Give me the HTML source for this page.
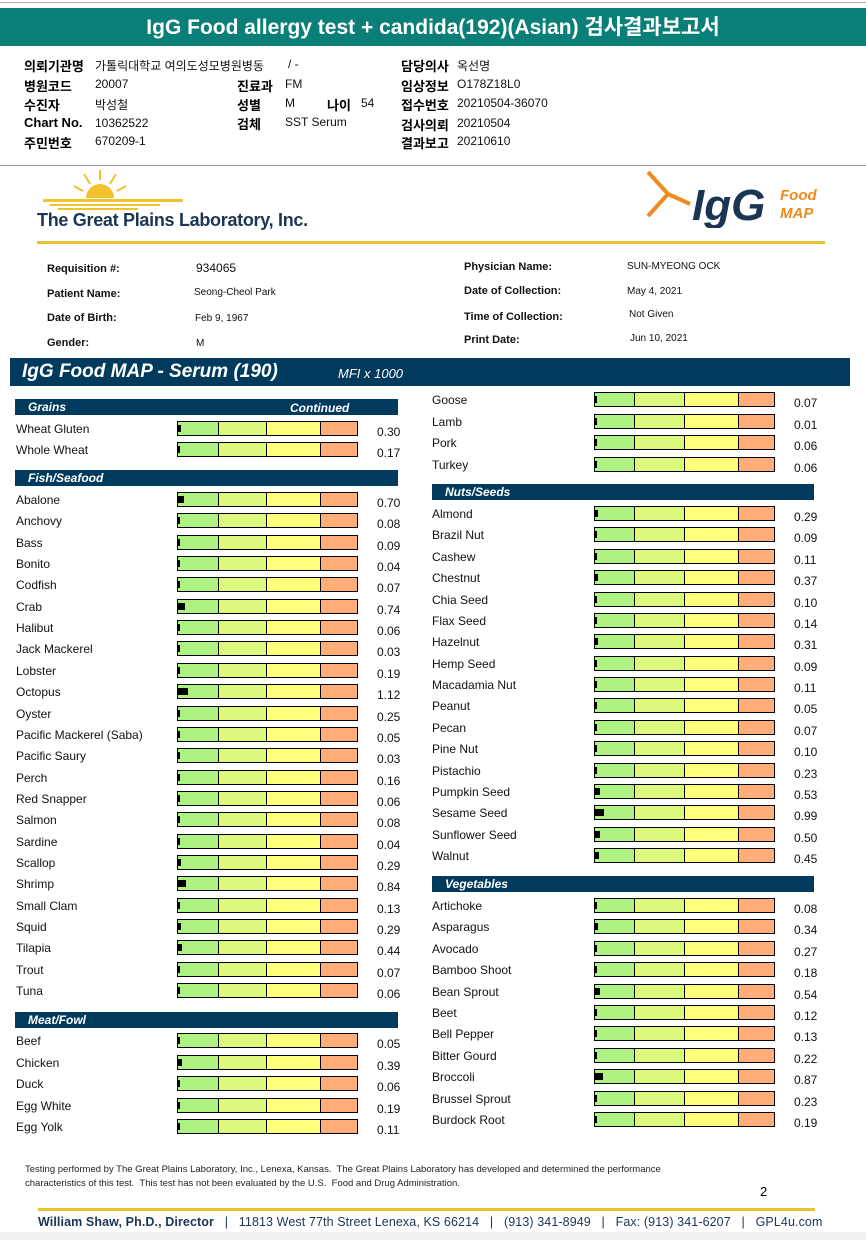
<!DOCTYPE html>
<html><head><meta charset="utf-8">
<style>
body{margin:0;width:866px;height:1240px;position:relative;background:#fff;font-family:"Liberation Sans","Noto Sans CJK KR",sans-serif;overflow:hidden}
.a{position:absolute;white-space:nowrap}
.k{font-weight:bold;font-size:13px;color:#000}
.v{font-size:12px;color:#111}
.pl{font-weight:bold;font-size:11px;color:#111}
.pv{font-size:10px;color:#111}
.hdr{position:absolute;background:#003a5c;color:#fff;font-weight:bold;font-style:italic;font-size:12px;height:16px;line-height:16px;padding-left:13px;box-sizing:border-box}
.lab{position:absolute;font-size:12px;color:#111;white-space:nowrap}
.val{position:absolute;font-size:12px;color:#111}
.bar{position:absolute;height:15px;box-sizing:border-box;border:1px solid #000;display:flex}
.bar div{height:100%;box-sizing:border-box}
.mk{position:absolute;background:#000;height:7px}
</style></head><body>
<div class="a" style="left:0;top:2px;width:866px;height:1px;background:#aaa"></div>
<div class="a" style="left:0;top:8px;width:866px;height:38px;background:#0a7f78;color:#fff;font-weight:bold;font-size:21px;line-height:40px;text-align:center">IgG Food allergy test + candida(192)(Asian) 검사결과보고서</div>

<div>
<span class="a k" style="left:24px;top:56px">의뢰기관명</span><span class="a v" style="left:95px;top:57px">가톨릭대학교 여의도성모병원병동</span><span class="a v" style="left:288px;top:57px">/ -</span>
<span class="a k" style="left:24px;top:76px">병원코드</span><span class="a v" style="left:95px;top:77px">20007</span>
<span class="a k" style="left:24px;top:95px">수진자</span><span class="a v" style="left:95px;top:96px">박성철</span>
<span class="a k" style="left:24px;top:115px">Chart No.</span><span class="a v" style="left:95px;top:116px">10362522</span>
<span class="a k" style="left:24px;top:133px">주민번호</span><span class="a v" style="left:95px;top:134px">670209-1</span>
<span class="a k" style="left:237px;top:76px">진료과</span><span class="a v" style="left:285px;top:77px">FM</span>
<span class="a k" style="left:237px;top:95px">성별</span><span class="a v" style="left:285px;top:96px">M</span>
<span class="a k" style="left:327px;top:95px">나이</span><span class="a v" style="left:361px;top:96px">54</span>
<span class="a k" style="left:237px;top:114px">검체</span><span class="a v" style="left:285px;top:115px">SST Serum</span>
<span class="a k" style="left:401px;top:56px">담당의사</span><span class="a v" style="left:457px;top:57px">옥선명</span>
<span class="a k" style="left:401px;top:76px">임상정보</span><span class="a v" style="left:457px;top:77px">O178Z18L0</span>
<span class="a k" style="left:401px;top:95px">접수번호</span><span class="a v" style="left:457px;top:96px">20210504-36070</span>
<span class="a k" style="left:401px;top:115px">검사의뢰</span><span class="a v" style="left:457px;top:116px">20210504</span>
<span class="a k" style="left:401px;top:133px">결과보고</span><span class="a v" style="left:457px;top:134px">20210610</span>
</div>
<div class="a" style="left:0;top:165px;width:866px;height:1px;background:#999"></div>

<svg class="a" style="left:38px;top:168px" width="150" height="45">
<path d="M48 30 A14 14 0 0 1 76 30 Z" fill="#f2c12e"/>
<g stroke="#f2c12e" stroke-width="2"><line x1="62" y1="12" x2="62" y2="2"/><line x1="52" y1="16" x2="46" y2="6"/><line x1="72" y1="16" x2="78" y2="6"/><line x1="45" y1="23" x2="36" y2="18"/><line x1="79" y1="23" x2="88" y2="18"/></g>
<g fill="#f2c12e"><rect x="5" y="31" width="140" height="3" rx="1"/><rect x="12" y="36" width="110" height="2"/><rect x="20" y="40" width="80" height="2"/></g>
</svg>
<div class="a" style="left:37px;top:210px;font-size:18px;font-weight:bold;color:#1c3553;letter-spacing:-0.3px">The Great Plains Laboratory, Inc.</div>
<svg class="a" style="left:640px;top:168px" width="190" height="60">
<g stroke="#ef8a1e" stroke-width="4" fill="none"><path d="M8 4 L28 26 L50 36"/><path d="M28 26 L8 48"/></g>
<text x="52" y="52" font-family="Liberation Sans" font-weight="bold" font-style="italic" font-size="44" fill="#1c3553">IgG</text>
<text x="140" y="32" font-family="Liberation Sans" font-weight="bold" font-style="italic" font-size="15" fill="#ef8a1e">Food</text>
<text x="140" y="50" font-family="Liberation Sans" font-weight="bold" font-style="italic" font-size="15" fill="#ef8a1e">MAP</text>
</svg>
<div class="a" style="left:37px;top:241px;width:788px;height:3px;background:#e8c232"></div>

<div>
<span class="a pl" style="left:47px;top:263px">Requisition #:</span><span class="a v" style="left:196px;top:261px">934065</span>
<span class="a pl" style="left:47px;top:288px">Patient Name:</span><span class="a pv" style="left:194px;top:287px">Seong-Cheol Park</span>
<span class="a pl" style="left:47px;top:312px">Date of Birth:</span><span class="a pv" style="left:195px;top:313px">Feb 9, 1967</span>
<span class="a pl" style="left:47px;top:337px">Gender:</span><span class="a pv" style="left:196px;top:338px">M</span>
<span class="a pl" style="left:464px;top:261px">Physician Name:</span><span class="a pv" style="left:627px;top:261px">SUN-MYEONG OCK</span>
<span class="a pl" style="left:464px;top:285px">Date of Collection:</span><span class="a pv" style="left:627px;top:286px">May 4, 2021</span>
<span class="a pl" style="left:464px;top:311px">Time of Collection:</span><span class="a pv" style="left:629px;top:309px">Not Given</span>
<span class="a pl" style="left:464px;top:334px">Print Date:</span><span class="a pv" style="left:630px;top:333px">Jun 10, 2021</span>
</div>

<div class="a" style="left:10px;top:358px;width:840px;height:28px;background:#003a5c;color:#fff;font-weight:bold;font-style:italic">
<span style="position:absolute;left:12px;top:3px;font-size:19px">IgG Food MAP - Serum (190)</span>
<span style="position:absolute;left:328px;top:8px;font-size:13px;font-weight:normal">MFI x 1000</span>
</div>

<div id="chart"></div>
<script>
const leftSections=["Grains","Fish/Seafood","Meat/Fowl"];
const grainsFoods=["Wheat Gluten","Whole Wheat"];
const grainsValues=[0.30,0.17];
const fishFoods=["Abalone","Anchovy","Bass","Bonito","Codfish","Crab","Halibut","Jack Mackerel","Lobster","Octopus","Oyster","Pacific Mackerel (Saba)","Pacific Saury","Perch","Red Snapper","Salmon","Sardine","Scallop","Shrimp","Small Clam","Squid","Tilapia","Trout","Tuna"];
const fishValues=[0.70,0.08,0.09,0.04,0.07,0.74,0.06,0.03,0.19,1.12,0.25,0.05,0.03,0.16,0.06,0.08,0.04,0.29,0.84,0.13,0.29,0.44,0.07,0.06];
const meatFoods=["Beef","Chicken","Duck","Egg White","Egg Yolk","Goose","Lamb","Pork","Turkey"];
const meatValues=[0.05,0.39,0.06,0.19,0.11,0.07,0.01,0.06,0.06];
const nutsFoods=["Almond","Brazil Nut","Cashew","Chestnut","Chia Seed","Flax Seed","Hazelnut","Hemp Seed","Macadamia Nut","Peanut","Pecan","Pine Nut","Pistachio","Pumpkin Seed","Sesame Seed","Sunflower Seed","Walnut"];
const nutsValues=[0.29,0.09,0.11,0.37,0.10,0.14,0.31,0.09,0.11,0.05,0.07,0.10,0.23,0.53,0.99,0.50,0.45];
const vegFoods=["Artichoke","Asparagus","Avocado","Bamboo Shoot","Bean Sprout","Beet","Bell Pepper","Bitter Gourd","Broccoli","Brussel Sprout","Burdock Root"];
const vegValues=[0.08,0.34,0.27,0.18,0.54,0.12,0.13,0.22,0.87,0.23,0.19];

const chart=document.getElementById('chart');
const ROW=21.4;
function markW(v){return Math.max(2,v*9);}
function header(x,y,w,text,extra){
  const h=document.createElement('div');h.className='hdr';
  
  
  h.style.left=x+'px';h.style.top=y+'px';h.style.width=w+'px';h.textContent=text;
  if(extra){const s=document.createElement('span');s.textContent=extra;s.style.position='absolute';s.style.left='275px';s.style.top='1px';h.appendChild(s);}
  chart.appendChild(h);
}
function row(col,y,name,v){
  const lx=col?432:16,bx=col?594:177,vx=col?794:377;
  const segs=col?[40,50,55,35]:[41,48,55,36];
  const l=document.createElement('div');l.className='lab';
  
  
  l.style.left=lx+'px';l.style.top=(y-6)+'px';l.textContent=name;chart.appendChild(l);
  const b=document.createElement('div');b.className='bar';
  
  
  b.style.left=bx+'px';b.style.top=(y-7)+'px';b.style.width=(segs.reduce((a,c)=>a+c,0)+1)+'px';
  const cols=['#aef282','#dcf97e','#ffff7c','#ffae7a'];
  segs.forEach((w,i)=>{const d=document.createElement('div');d.style.width=w+'px';d.style.background=cols[i];if(i<3)d.style.borderRight='1px solid #000';b.appendChild(d);});
  chart.appendChild(b);
  const m=document.createElement('div');m.className='mk';
  
  
  m.style.left=(bx+1)+'px';m.style.top=(y-3)+'px';m.style.width=markW(v)+'px';chart.appendChild(m);
  const t=document.createElement('div');t.className='val';
  
  
  t.style.left=vx+'px';t.style.top=(y-3)+'px';t.textContent=v.toFixed(2);chart.appendChild(t);
}
header(15,399,383,leftSections[0],'Continued');
grainsFoods.forEach((f,i)=>row(0,428+i*ROW,f,grainsValues[i]));
header(15,470,383,leftSections[1]);
fishFoods.forEach((f,i)=>row(0,499+i*21.35,f,fishValues[i]));
header(15,1012,383,leftSections[2]);
for(let i=0;i<5;i++)row(0,1040+i*21.5,meatFoods[i],meatValues[i]);
for(let i=5;i<9;i++)row(1,399+(i-5)*21.7,meatFoods[i],meatValues[i]);
header(432,484,382,"Nuts/Seeds");
nutsFoods.forEach((f,i)=>row(1,513+i*21.375,f,nutsValues[i]));
header(432,876,382,"Vegetables");
vegFoods.forEach((f,i)=>row(1,905+i*21.4,f,vegValues[i]));
</script>

<div class="a" style="left:25px;top:1163px;font-size:9.5px;line-height:14px;color:#222">Testing performed by The Great Plains Laboratory, Inc., Lenexa, Kansas.&nbsp; The Great Plains Laboratory has developed and determined the performance<br>characteristics of this test.&nbsp; This test has not been evaluated by the U.S.&nbsp; Food and Drug Administration.</div>
<div class="a" style="left:760px;top:1184px;font-size:13px">2</div>
<div class="a" style="left:38px;top:1208px;width:777px;height:3px;background:#e8c232"></div>
<div class="a" style="left:38px;top:1215px;font-size:12.5px;color:#1c3553;letter-spacing:0.1px"><b>William Shaw, Ph.D., Director</b> &nbsp;&nbsp;|&nbsp;&nbsp; 11813 West 77th Street Lenexa, KS 66214 &nbsp;&nbsp;|&nbsp;&nbsp; (913) 341-8949 &nbsp;&nbsp;|&nbsp;&nbsp; Fax: (913) 341-6207 &nbsp;&nbsp;|&nbsp;&nbsp; GPL4u.com</div>
<div class="a" style="left:0;top:1232px;width:866px;height:8px;background:#f0f0f0"></div>
</body></html>
